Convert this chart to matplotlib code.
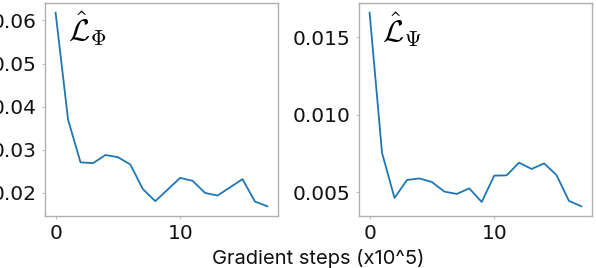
import matplotlib
matplotlib.use("Agg")
import matplotlib.pyplot as plt

steps = list(range(18))
loss_phi = [0.0618, 0.0370, 0.0271, 0.0269, 0.0288, 0.0283, 0.0266, 0.0209, 0.0181,
            0.0208, 0.0235, 0.0228, 0.0200, 0.0194, 0.0213, 0.0232, 0.0180, 0.0169]
loss_psi = [0.0166, 0.00754, 0.00464, 0.0058, 0.0059, 0.00567, 0.00505, 0.0049, 0.00526,
            0.00438, 0.00608, 0.0061, 0.00692, 0.00651, 0.00687, 0.00612, 0.00445, 0.0041]
titles = [r"$\hat{\mathcal{L}}_\Phi$", r"$\hat{\mathcal{L}}_\Psi$"]
xlabel = "Gradient steps (x10^5)"

plt.rcParams['font.family'] = ['DejaVu Sans']
plt.rcParams['mathtext.fontset'] = 'cm'

fig = plt.figure(figsize=(5.96, 2.68), dpi=100)
ax1 = fig.add_axes([45/596, 1-216/268, 233/596, 213/268])
ax2 = fig.add_axes([359/596, 1-216/268, 233/596, 213/268])

for ax, y, t in [(ax1, loss_phi, titles[0]), (ax2, loss_psi, titles[1])]:
    ax.plot(steps, y, color='#1f77b4', lw=1.3)
    for s in ax.spines.values():
        s.set_color('#b0b0b0')
        s.set_linewidth(1.0)
    ax.tick_params(length=2, width=0.8, color='#c0c0c0', labelsize=14.5, pad=4, labelcolor='#111111')
    ax.set_xticks([0, 10])
    ax.text(0.10, 0.82, t, transform=ax.transAxes, fontsize=22, color='#000000')

ax1.set_yticks([0.02, 0.03, 0.04, 0.05, 0.06])
ax1.set_yticklabels(['0.02', '0.03', '0.04', '0.05', '0.06'])
ax2.set_yticks([0.005, 0.010, 0.015])
ax2.set_yticklabels(['0.005', '0.010', '0.015'])

fig.text(318/596, 1-258/268, xlabel, ha='center', va='center', fontsize=14.5,
         color='#111111', family=['Inter', 'DejaVu Sans'])

fig.savefig("out.png", dpi=100)
